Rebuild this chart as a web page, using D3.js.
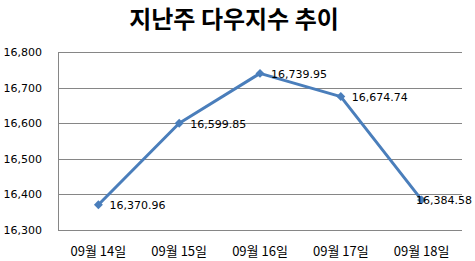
<!DOCTYPE html>
<html><head><meta charset="utf-8">
<script src="https://cdn.jsdelivr.net/npm/d3@7"></script>
<style>html,body{margin:0;padding:0;background:#fff;}svg{display:block;}</style>
</head><body>
<svg id="c" width="475" height="261"></svg>
<script>
const categories = ["09월 14일","09월 15일","09월 16일","09월 17일","09월 18일"];
const values = [16370.96, 16599.85, 16739.95, 16674.74, 16384.58];
const yTicks = [16300, 16400, 16500, 16600, 16700, 16800];
const title = "지난주 다우지수 추이";

const svg = d3.select("#c");
const W = 475;
const L = 58, R = 462, T = 52, B = 230;
const x = d3.scaleBand().domain(categories).range([L, R]);
const y = d3.scaleLinear().domain([16300, 16800]).range([B, T]);
const fmtY = d3.format(",");
const fmtV = d3.format(",.2f");
const font = "'Noto Sans CJK KR', 'Noto Sans', sans-serif";
const nfont = "'DejaVu Sans', 'Noto Sans', sans-serif";

svg.append("text").attr("x", 234).attr("y", 28).attr("text-anchor", "middle")
  .attr("font-family", font).attr("font-weight", "bold").attr("font-size", 24)
  .attr("fill", "#000").text(title);

const yAxis = d3.axisLeft(y).tickValues(yTicks).tickFormat(fmtY).tickSize(-(R - L)).tickPadding(16);
const gy = svg.append("g").attr("transform", `translate(${L},0)`).call(yAxis);
gy.select(".domain").remove();
gy.selectAll(".tick line").attr("stroke", "#868686").attr("stroke-width", 1).attr("shape-rendering", "crispEdges");
gy.selectAll(".tick text").attr("font-family", nfont).attr("font-size", 11).attr("fill", "#000");

svg.append("line").attr("x1", L + 0.5).attr("x2", L + 0.5).attr("y1", T).attr("y2", B)
  .attr("stroke", "#868686").attr("stroke-width", 1);

const xAxis = d3.axisBottom(x).tickSize(0).tickPadding(17);
const gx = svg.append("g").attr("transform", `translate(0,${B})`).call(xAxis);
gx.select(".domain").remove();
gx.selectAll(".tick text").attr("font-family", font).attr("font-size", 13).attr("fill", "#000");

const cx = d => x(d) + x.bandwidth() / 2;
const line = d3.line().x((d, i) => cx(categories[i])).y(d => y(d));
svg.append("path").datum(values).attr("d", line).attr("fill", "none")
  .attr("stroke", "#4a7ebb").attr("stroke-width", 3).attr("stroke-linejoin", "round");

svg.selectAll(".m").data(values).enter().append("path")
  .attr("transform", (d, i) => `translate(${cx(categories[i])},${y(d)}) rotate(45)`)
  .attr("d", d3.symbol().type(d3.symbolSquare).size(40)).attr("fill", "#4a7ebb");

svg.selectAll(".lbl").data(values).enter().append("text")
  .attr("x", (d, i) => cx(categories[i]) + 11).attr("y", d => y(d) + 4.5)
  .attr("font-family", nfont).attr("font-size", 11).attr("fill", "#000")
  .text(d => fmtV(d))
  .each(function () {
    const bb = this.getBBox();
    if (bb.x + bb.width > W - 3) d3.select(this).attr("x", W - 3 - bb.width);
  });
</script>
</body></html>
